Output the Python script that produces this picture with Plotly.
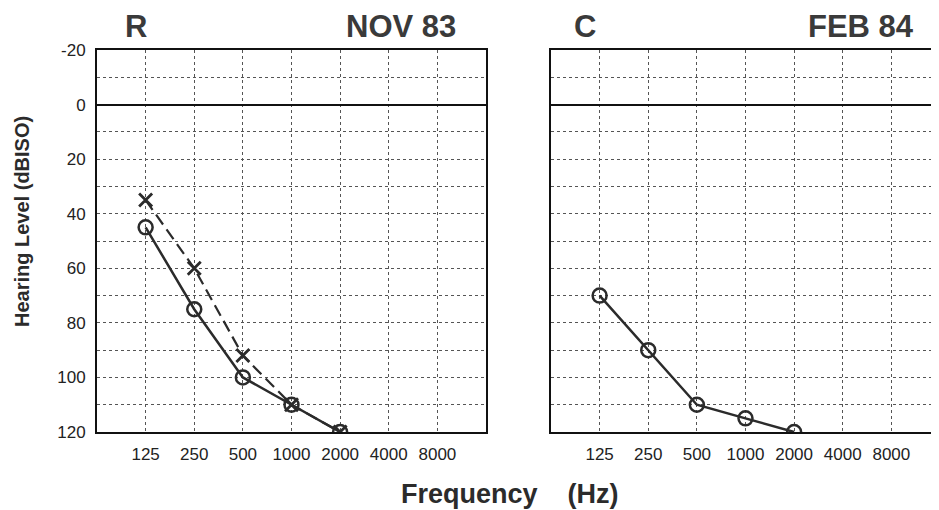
import plotly.graph_objects as go

# audiogram data (hearing level in dB)
freq_labels = ["125", "250", "500", "1000", "2000", "4000", "8000"]

nov83_freqs = ["125", "250", "500", "1000", "2000"]
nov83_circle = [45, 75, 100, 110, 120]
nov83_cross = [35, 60, 92, 110, 120]

feb84_freqs = ["125", "250", "500", "1000", "2000"]
feb84_circle = [70, 90, 110, 115, 120]

y_ticks = [-20, 0, 20, 40, 60, 80, 100, 120]
y_ticktext = ["-20", "0", "20", "40", "60", "80", "100", "120"]

ink = "#2b2b2b"
grid = "#555555"
font = "Liberation Sans, Arial, Helvetica, sans-serif"

# the page body has an 8px margin, so the figure is 8px smaller and offset
W, H, OFF = 931, 502, 8


def px(x):
    return (x - OFF) / W


def py(y):
    return 1 - (y - OFF) / H


fig = go.Figure()

# left panel: X (dashed) and O (solid)
fig.add_trace(go.Scatter(
    x=nov83_freqs, y=nov83_cross, mode="lines+markers",
    line=dict(color=ink, width=2.2, dash="12px,6px"),
    marker=dict(symbol="x-thin-open", size=13, line=dict(color=ink, width=2.8)),
    xaxis="x", yaxis="y", showlegend=False,
))
fig.add_trace(go.Scatter(
    x=nov83_freqs, y=nov83_circle, mode="lines+markers",
    line=dict(color=ink, width=2.5),
    marker=dict(symbol="circle-open", size=14, line=dict(color=ink, width=2.5)),
    xaxis="x", yaxis="y", showlegend=False,
))

# right panel
fig.add_trace(go.Scatter(
    x=feb84_freqs, y=feb84_circle, mode="lines+markers",
    line=dict(color=ink, width=2.5),
    marker=dict(symbol="circle-open", size=14, line=dict(color=ink, width=2.5)),
    xaxis="x2", yaxis="y2", showlegend=False,
))

xcommon = dict(
    type="category", categoryorder="array", categoryarray=freq_labels,
    tickvals=freq_labels, ticktext=freq_labels,
    showgrid=True, gridcolor=grid, gridwidth=1, griddash="dot",
    showline=True, linecolor="#111111", linewidth=2, mirror=True,
    ticks="outside", ticklen=6, tickcolor="rgba(0,0,0,0)",
    tickfont=dict(family=font, size=17, color="#222222"),
    zeroline=False, automargin=False,
)
ycommon = dict(
    range=[120, -20], tickvals=y_ticks, ticktext=y_ticktext,
    showgrid=True, gridcolor=grid, gridwidth=1, griddash="dot",
    minor=dict(dtick=10, tick0=0, showgrid=True, gridcolor=grid, gridwidth=1, griddash="dot"),
    zeroline=True, zerolinecolor="#111111", zerolinewidth=2,
    showline=True, linecolor="#111111", linewidth=2,
    ticks="outside", ticklen=6, tickcolor="rgba(0,0,0,0)",
    tickfont=dict(family=font, size=17, color="#222222"),
    automargin=False,
)

ydom = [py(432), py(50)]
fig.update_layout(
    width=W, height=H,
    margin=dict(l=0, r=0, t=0, b=0, autoexpand=False),
    paper_bgcolor="white", plot_bgcolor="white",
    xaxis=dict(xcommon, domain=[px(97), px(486)], range=[-1, 7], anchor="y"),
    yaxis=dict(ycommon, domain=ydom, mirror=True, anchor="x"),
    xaxis2=dict(xcommon, domain=[px(551), 1.0], range=[-1, 6.98], anchor="y2"),
    yaxis2=dict(ycommon, domain=ydom, mirror=False, showticklabels=False, anchor="x2"),
    font=dict(family=font, color=ink),
)

title_font = dict(family=font, size=31, color="#3a3a3a", weight="bold")
for text, xc in [("R", 136), ("NOV 83", 401), ("C", 585), ("FEB 84", 861)]:
    fig.add_annotation(text=text, x=px(xc), y=py(27), xref="paper", yref="paper",
                       showarrow=False, font=title_font, xanchor="center", yanchor="middle")

fig.add_annotation(text="Hearing Level (dBISO)", x=px(22), y=py(222),
                   xref="paper", yref="paper", showarrow=False, textangle=-90,
                   font=dict(family=font, size=20, color="#2b2b2b", weight="bold"),
                   xanchor="center", yanchor="middle")
fig.add_annotation(text="Frequency    (Hz)", x=px(510), y=py(494),
                   xref="paper", yref="paper", showarrow=False,
                   font=dict(family=font, size=27, color="#2b2b2b", weight="bold"),
                   xanchor="center", yanchor="middle")

fig.write_html("out.html")
